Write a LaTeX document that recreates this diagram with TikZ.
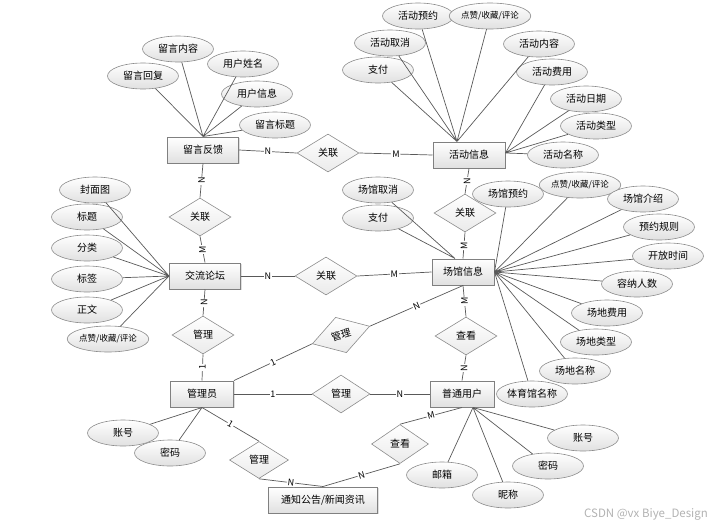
\documentclass[tikz,border=0pt]{standalone}
\usepackage{fontspec}
\setmainfont{Noto Sans CJK SC}
\usetikzlibrary{shapes.geometric,shadows}

\begin{document}
\begin{tikzpicture}[x=1pt,y=-1pt,
    entity/.style={rectangle, draw=black!50, line width=1pt, top color=white, bottom color=black!12,
        minimum width=71pt, minimum height=26pt, inner sep=0pt,
        drop shadow={shadow xshift=1pt, shadow yshift=-1pt, fill=black!25},
        font=\fontsize{10}{12}\selectfont},
    attr/.style={ellipse, draw=black!45, line width=0.6pt, top color=white, bottom color=black!12,
        minimum width=71pt, minimum height=26pt, inner sep=0pt, font=\fontsize{10}{12}\selectfont},
    rel/.style={diamond, draw=black!45, line width=0.6pt, top color=white, bottom color=black!8,
        minimum width=62pt, minimum height=38pt, inner sep=0pt, font=\fontsize{10}{12}\selectfont},
    conn/.style={draw=black!65, line width=0.7pt},
    card/.style={fill=white, inner sep=0.8pt, font=\fontsize{9}{10}\selectfont},
    small/.style={font=\fontsize{8.5}{10}\selectfont}]
    \useasboundingbox (0,0) rectangle (726,528);

    % Entities
    \node[entity] (lyfk) at (203,150) {留言反馈};
    \node[entity, minimum width=72pt] (hdxx) at (469,155) {活动信息};
    \node[entity] (jllt) at (205,276) {交流论坛};
    \node[entity, minimum width=62pt] (cgxx) at (463,272) {场馆信息};
    \node[entity, minimum width=63pt] (gly) at (202,394) {管理员};
    \node[entity, minimum width=64pt] (ptyh) at (462,394) {普通用户};
    \node[entity, minimum width=109pt] (tzgg) at (323,500) {通知公告/新闻资讯};

    % Relationships
    \node[rel] (gl1) at (328,153) {关联};
    \node[rel] (gl2) at (200,217) {关联};
    \node[rel] (gl3) at (326,276) {关联};
    \node[rel] (gl4) at (465,213) {关联};
    \node[rel] (gm1) at (203,335) {管理};
    \node[rel] (ck1) at (466,336) {查看};
    \node[rel, minimum width=58pt] (gm2) at (341,394) {管理};
    \node[rel, minimum width=60pt, minimum height=37pt, rotate=17] (gm3) at (341,335) {管理};
    \node[rel, minimum width=59pt, minimum height=37pt] (gm4) at (259,460) {管理};
    \node[rel, minimum width=57pt, minimum height=39pt] (ck2) at (400,444) {查看};

    % Attributes of 留言反馈
    \node[attr] (lyfk1) at (178,49) {留言内容};
    \node[attr] (lyfk2) at (143,76) {留言回复};
    \node[attr] (lyfk3) at (243,64) {用户姓名};
    \node[attr] (lyfk4) at (257,94) {用户信息};
    \node[attr] (lyfk5) at (275,125) {留言标题};

    % Attributes of 活动信息
    \node[attr] (hdxx1) at (418,16) {活动预约};
    \node[attr, small] (hdxx2) at (490,16) {点赞/收藏/评论};
    \node[attr] (hdxx3) at (390,43) {活动取消};
    \node[attr] (hdxx4) at (378,70) {支付};
    \node[attr] (hdxx5) at (539,44) {活动内容};
    \node[attr] (hdxx6) at (552,72) {活动费用};
    \node[attr] (hdxx7) at (586,99) {活动日期};
    \node[attr] (hdxx8) at (596,126) {活动类型};
    \node[attr] (hdxx9) at (563,155) {活动名称};

    % Attributes of 交流论坛
    \node[attr] (jllt1) at (95,190) {封面图};
    \node[attr] (jllt2) at (87,217) {标题};
    \node[attr] (jllt3) at (87,248) {分类};
    \node[attr] (jllt4) at (87,279) {标签};
    \node[attr] (jllt5) at (87,310) {正文};
    \node[attr, small] (jllt6) at (108,339) {点赞/收藏/评论};

    % Attributes of 场馆信息
    \node[attr] (cgxx1) at (378,190) {场馆取消};
    \node[attr] (cgxx2) at (378,218) {支付};
    \node[attr] (cgxx3) at (508,194) {场馆预约};
    \node[attr, small] (cgxx4) at (580,185) {点赞/收藏/评论};
    \node[attr] (cgxx5) at (643,199) {场馆介绍};
    \node[attr] (cgxx6) at (659,227) {预约规则};
    \node[attr] (cgxx7) at (668,256) {开放时间};
    \node[attr] (cgxx8) at (637,284) {容纳人数};
    \node[attr] (cgxx9) at (607,313) {场地费用};
    \node[attr] (cgxx10) at (596,342) {场地类型};
    \node[attr] (cgxx11) at (575,371) {场地名称};
    \node[attr] (cgxx12) at (532,394) {体育馆名称};

    % Attributes of 管理员
    \node[attr] (gly1) at (123,433) {账号};
    \node[attr] (gly2) at (170,453) {密码};

    % Attributes of 普通用户
    \node[attr] (ptyh1) at (583,438) {账号};
    \node[attr] (ptyh2) at (548,466) {密码};
    \node[attr] (ptyh3) at (442,475) {邮箱};
    \node[attr] (ptyh4) at (508,495) {昵称};

    % Attribute lines
    \draw[conn] (lyfk1) -- (lyfk.north) (lyfk2) -- (lyfk.north) (lyfk3) -- (lyfk.north)
        (lyfk4) -- (lyfk.north) (lyfk5) -- (lyfk.north);
    \draw[conn] (hdxx1) -- ([xshift=-12pt]hdxx.north) (hdxx2) -- ([xshift=-12pt]hdxx.north)
        (hdxx3) -- ([xshift=-12pt]hdxx.north) (hdxx4) -- ([xshift=-12pt]hdxx.north)
        (hdxx5) -- ([xshift=-12pt]hdxx.north);
    \draw[conn] (hdxx6) -- ([yshift=2pt]hdxx.east) (hdxx7) -- ([yshift=2pt]hdxx.east)
        (hdxx8) -- ([yshift=2pt]hdxx.east) (hdxx9) -- ([yshift=2pt]hdxx.east);
    \draw[conn] (jllt1) -- (jllt.west) (jllt2) -- (jllt.west) (jllt3) -- (jllt.west)
        (jllt4) -- (jllt.west) (jllt5) -- (jllt.west) (jllt6) -- (jllt.west);
    \draw[conn] (cgxx1) -- ([xshift=-8pt]cgxx.north) (cgxx2) -- ([xshift=-8pt]cgxx.north);
    \draw[conn] (cgxx3) -- (cgxx.east) (cgxx4) -- (cgxx.east) (cgxx5) -- (cgxx.east)
        (cgxx6) -- (cgxx.east) (cgxx7) -- (cgxx.east) (cgxx8) -- (cgxx.east)
        (cgxx9) -- (cgxx.east) (cgxx10) -- (cgxx.east) (cgxx11) -- (cgxx.east)
        (cgxx12) -- (cgxx.east);
    \draw[conn] (gly1) -- (gly.south) (gly2) -- (gly.south);
    \draw[conn] (ptyh1) -- ([xshift=11pt]ptyh.south) (ptyh2) -- ([xshift=11pt]ptyh.south)
        (ptyh3) -- ([xshift=11pt]ptyh.south) (ptyh4) -- ([xshift=11pt]ptyh.south);

    % Relationship lines
    \draw[conn] (lyfk.east) -- node[card] {N} (gl1.west);
    \draw[conn] (gl1.east) -- node[card] {M} (hdxx.west);
    \draw[conn] (lyfk.south) -- node[card, rotate=90] {N} (gl2.north);
    \draw[conn] (gl2.south) -- node[card, rotate=90] {M} (jllt.north);
    \draw[conn] (jllt.east) -- node[card] {N} (gl3.west);
    \draw[conn] (gl3.east) -- node[card] {M} (cgxx.west);
    \draw[conn] (hdxx.south) -- node[card, rotate=90] {N} (gl4.north);
    \draw[conn] (gl4.south) -- node[card, rotate=90] {M} (cgxx.north);
    \draw[conn] (jllt.south) -- node[card, rotate=90] {N} (gm1.north);
    \draw[conn] (gm1.south) -- node[card, rotate=90] {1} (gly.north);
    \draw[conn] (cgxx.south) -- node[card, rotate=90] {M} (ck1.north);
    \draw[conn] (ck1.south) -- node[card, rotate=90] {N} (ptyh.north);
    \draw[conn] (gly.east) -- node[card] {1} (gm2.west);
    \draw[conn] (gm2.east) -- node[card] {N} (ptyh.west);
    \draw[conn] (gly.north east) -- node[card, sloped] {1} (gm3.west);
    \draw[conn] (gm3.east) -- node[card, sloped] {N} (cgxx.south);
    \draw[conn] (gly.south) -- node[card, sloped] {1} (gm4.north);
    \draw[conn] (gm4.south) -- node[card, sloped] {N} (tzgg.north);
    \draw[conn] (ptyh.south) -- node[card, sloped] {M} (ck2.north);
    \draw[conn] (ck2.south) -- node[card, sloped] {N} (tzgg.north);

    % Watermark
    \node[text=black!30, font=\fontsize{11.5}{13}\selectfont] (wm) at (646,514) {CSDN @vx Biye\_Design};
\end{tikzpicture}
\end{document}
